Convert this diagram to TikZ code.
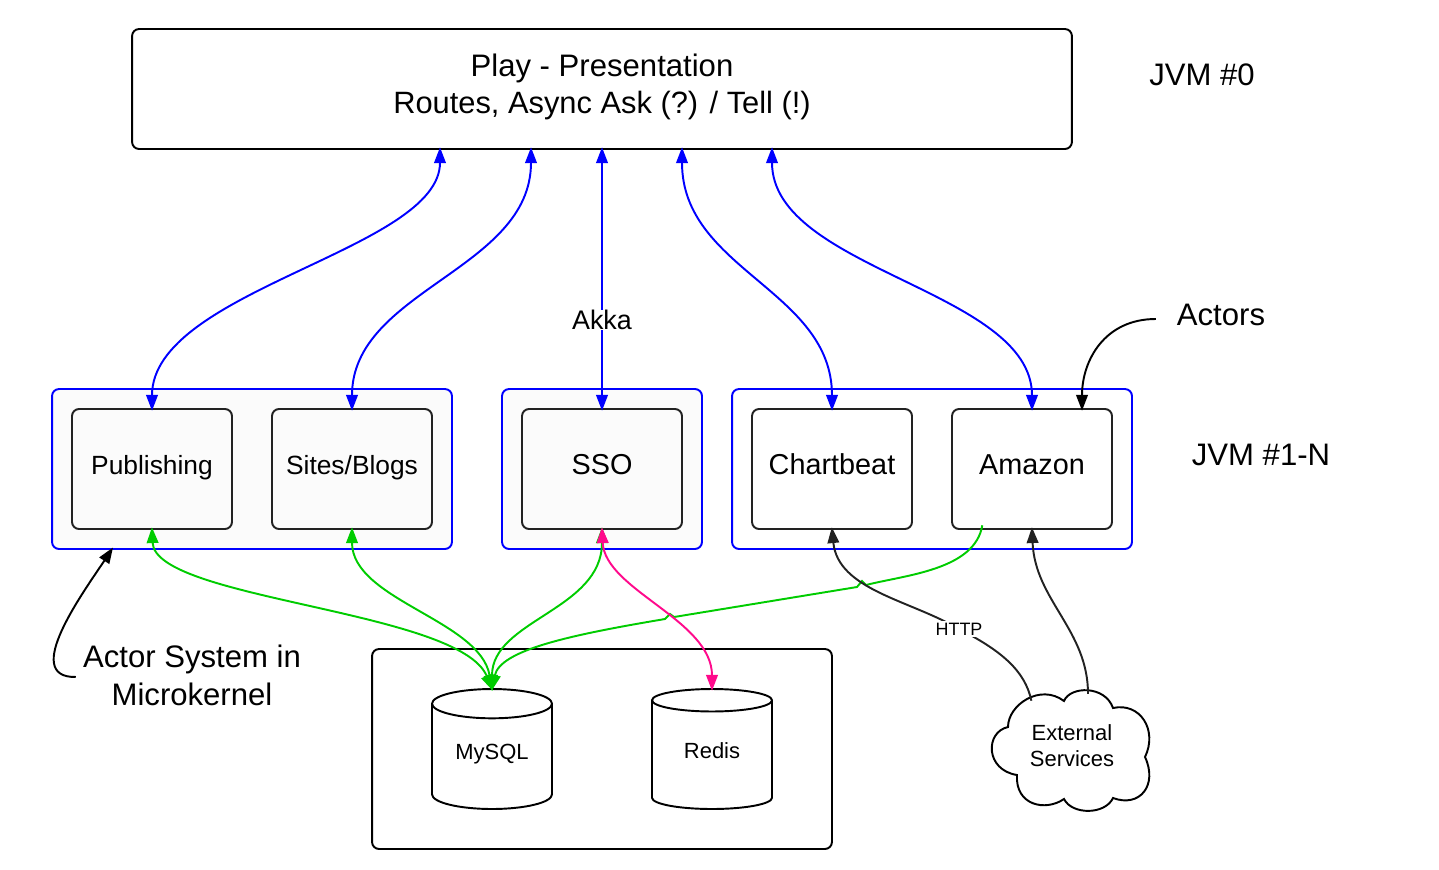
\documentclass[tikz,border=0pt]{standalone}
\usepackage{fontspec}
\setmainfont{Liberation Sans}
\usetikzlibrary{arrows.meta,shapes.geometric}
\definecolor{actorblue}{HTML}{0000FF}
\definecolor{dbgreen}{HTML}{00CC00}
\definecolor{cachepink}{HTML}{FF0A8C}
\definecolor{boxfill}{HTML}{FBFBFB}
\definecolor{darkline}{HTML}{222222}
\tikzset{
  >={Triangle[length=9pt,width=6.6pt]},
  bigtext/.style={font=\fontsize{17.7}{21.5}\selectfont,align=center},
  actorbox/.style={draw=darkline,fill=boxfill,line width=1.1pt,rounded corners=4pt,outer sep=0pt,
    minimum width=3.2cm,minimum height=2.4cm,inner sep=0pt,text height=10pt,text depth=3.2pt,font=\fontsize{16.4}{20}\selectfont},
  jvmbox/.style={draw=actorblue,line width=1.1pt,rounded corners=4pt,inner sep=0pt,minimum height=3.2cm},
  dbshape/.style={cylinder,shape border rotate=90,shape aspect=0.4,draw,line width=1.1pt,outer sep=0pt,anchor=shape center,
    minimum width=2.4cm,minimum height=2.4cm,inner sep=0pt,text height=7.5pt,text depth=4pt,font=\fontsize{12.5}{15}\selectfont},
  linkline/.style={line width=1.1pt,shorten >=-1pt,shorten <=-1pt},
  akkaline/.style={linkline,actorblue,<->},
  sqlline/.style={linkline,dbgreen,<->},
  noteline/.style={linkline,->},
}
\begin{document}
\begin{tikzpicture}[x=0.02cm,y=-0.02cm]
  \useasboundingbox (0,0) rectangle (1439,869);
  % top box
  \node[draw,line width=1.1pt,rounded corners=4pt,outer sep=0pt,minimum width=18.8cm,minimum height=2.4cm,inner sep=0pt,bigtext] (play) at (602,89)
    {\raisebox{6.2pt}{\shortstack{Play - Presentation\\[2pt]{\fontsize{17.55}{21}\selectfont Routes, Async Ask (?) / Tell (!)}}}};
  \node[bigtext] (jvmzero) at (1202,75) {JVM \#0};
  \node[bigtext] (jvmrest) at (1261,455) {JVM \#1-N};
  \node[bigtext] (actors) at (1221,315) {Actors};
  \node[bigtext] (system) at (192,675) {Actor System in\\Microkernel};
  % jvm groups
  \node[jvmbox,fill=boxfill,minimum width=8cm] (groupa) at (252,469) {};
  \node[jvmbox,fill=boxfill,minimum width=4cm] (groupb) at (602,469) {};
  \node[jvmbox,fill=white,minimum width=8cm] (groupc) at (932,469) {};
  \node[actorbox,font=\fontsize{15}{18}\selectfont] (publishing) at (152,469) {Publishing};
  \node[actorbox,font=\fontsize{15}{18}\selectfont] (sites) at (352,469) {Sites/Blogs};
  \node[actorbox] (sso) at (602,469) {SSO};
  \node[actorbox,fill=white] (chartbeat) at (832,469) {Chartbeat};
  \node[actorbox,fill=white] (amazon) at (1032,469) {Amazon};
  % data stores
  \node[draw,line width=1.1pt,rounded corners=4pt,minimum width=9.2cm,minimum height=4cm,inner sep=0pt] (stores) at (602,749) {};
  \node[dbshape] (mysql) at (492,749) {MySQL};
  \node[dbshape] (redis) at (712,749) {Redis};
  % cloud
  \draw[line width=1.1pt] (1008,727) .. controls (1008,705) and (1040,683) .. (1064,701)
    .. controls (1070,686) and (1105,685) .. (1113,708)
    .. controls (1140,702) and (1158,730) .. (1145,757)
    .. controls (1158,785) and (1140,808) .. (1113,798)
    .. controls (1105,815) and (1072,815) .. (1064,799)
    .. controls (1045,812) and (1015,805) .. (1017,775)
    .. controls (985,770) and (985,732) .. (1008,727) -- cycle;
  \node[align=center,font=\fontsize{12.5}{14.8}\selectfont] (external) at (1072,746) {External\\Services};
  \coordinate (cloudl) at (1031,699);
  \coordinate (cloudr) at (1088,692);
  % akka links
  \coordinate (playa) at (440,149);
  \coordinate (playb) at (531,149);
  \coordinate (playc) at (682,149);
  \coordinate (playd) at (772,149);
  \draw[akkaline] (playa) .. controls (440,250) and (152,290) .. (publishing.north);
  \draw[akkaline] (playb) .. controls (531,270) and (352,290) .. (sites.north);
  \draw[akkaline] (play.south) -- node[fill=white,text=black,font=\fontsize{15.3}{18}\selectfont,inner sep=0pt,pos=0.658] (akka) {Akka} (sso.north);
  \draw[akkaline] (playc) .. controls (682,270) and (832,290) .. (chartbeat.north);
  \draw[akkaline] (playd) .. controls (772,270) and (1032,290) .. (amazon.north);
  % database links
  \draw[sqlline] (publishing.south) .. controls (155,600) and (460,610) .. (mysql.north);
  \draw[sqlline] (sites.south) .. controls (352,600) and (480,620) .. (mysql.north);
  \draw[sqlline] (sso.south) .. controls (602,610) and (492,620) .. (mysql.north);
  \coordinate (amazonout) at (982,527);
  \draw[linkline,dbgreen,->] (amazonout) .. controls (975,570) and (905,575) .. (866,585)
    -- ++(-4,-4) -- ++(-5,6) -- (674,617) -- ++(-4,-3) -- ++(-5,5)
    .. controls (570,635) and (500,650) .. (mysql.north);
  \draw[linkline,cachepink,<->] (sso.south) .. controls (605,590) and (712,620) .. (redis.north);
  % external links
  \draw[linkline,darkline,<-] (chartbeat.south) .. controls (838,590) and (910,600) .. (959,629)
    node[fill=white,text=black,inner sep=1pt,font=\fontsize{10.2}{12}\selectfont] (http) {HTTP}
    .. controls (1000,650) and (1025,670) .. (cloudl);
  \draw[linkline,darkline,<-] (amazon.south) .. controls (1035,600) and (1088,630) .. (cloudr);
  % notes
  \coordinate (actorsend) at (1154,319);
  \coordinate (systemend) at (74,677);
  \coordinate (amazontip) at (1082,409);
  \coordinate (groupatip) at (112,549);
  \draw[noteline] (actorsend) .. controls (1105,319) and (1082,360) .. (amazontip);
  \draw[noteline] (systemend) .. controls (20,678) and (85,590) .. (groupatip);
\end{tikzpicture}
\end{document}
